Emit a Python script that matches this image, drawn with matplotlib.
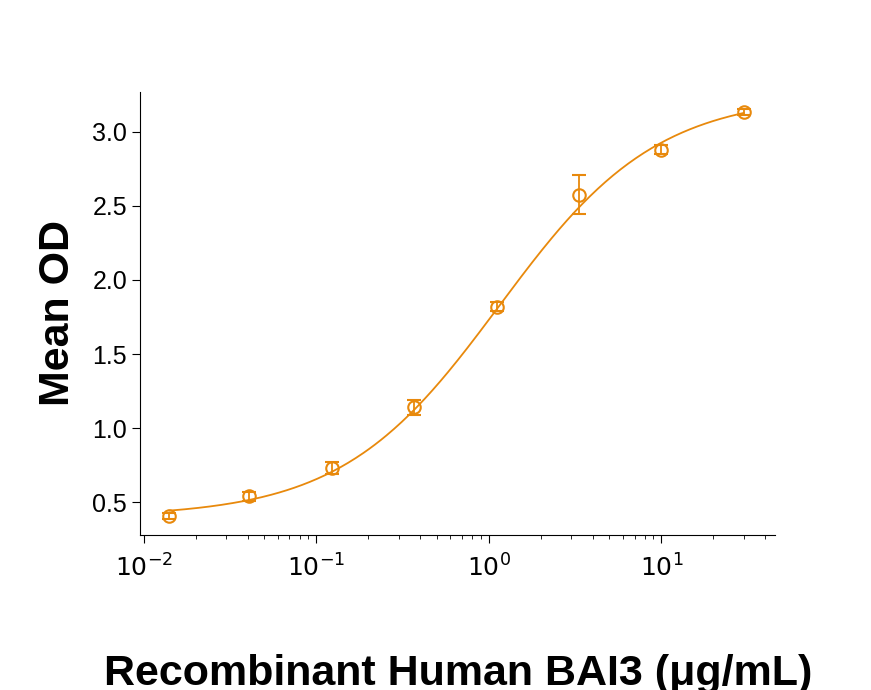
import matplotlib
matplotlib.use("Agg")
import matplotlib.pyplot as plt
import numpy as np

plt.rcParams["mathtext.fontset"] = "custom"
plt.rcParams["mathtext.rm"] = "Liberation Sans"
plt.rcParams["mathtext.it"] = "Liberation Sans"

conc = [0.0141, 0.041, 0.123, 0.37, 1.11, 3.33, 10, 30]
od = [0.405, 0.54, 0.73, 1.14, 1.82, 2.575, 2.88, 3.135]
err = [0.02, 0.03, 0.04, 0.05, 0.03, 0.13, 0.03, 0.02]
# fitted 4PL parameters (estimated)
bottom, top, ec50, hill = 0.40, 3.25, 1.15, 0.95

color = "#E8890C"
fig = plt.figure(figsize=(8.71, 6.9), dpi=100)
ax = fig.add_axes([0.161, 0.225, 0.729, 0.642])
xs = np.logspace(np.log10(conc[0]), np.log10(conc[-1]), 300)
ax.plot(xs, bottom + (top - bottom) / (1 + (ec50 / xs) ** hill), color=color, lw=1.3)
ax.errorbar(conc, od, yerr=err, fmt="o", mfc="none", mec=color, ecolor=color,
            ms=9, mew=1.5, capsize=5, elinewidth=1.3)
ax.set_xscale("log")
ax.set_xlim(10**-2.02, 10**1.66)
ax.set_ylim(0.28, 3.27)
ax.set_yticks([0.5, 1.0, 1.5, 2.0, 2.5, 3.0])
ax.set_yticklabels(["0.5", "1.0", "1.5", "2.0", "2.5", "3.0"], family="Liberation Sans")
for s in ["top", "right"]:
    ax.spines[s].set_visible(False)
ax.tick_params(labelsize=18, length=6)
ax.tick_params(which="minor", length=3)
ax.tick_params(axis="x", pad=8)
ax.set_ylabel("Mean OD", fontsize=31, fontweight="bold", family="Liberation Sans", labelpad=10)
ax.set_xlabel("Recombinant Human BAI3 (\u03bcg/mL)", fontsize=31, fontweight="bold",
              family="Liberation Sans", labelpad=22)
ax.xaxis.set_label_coords(0.5, -0.27)
fig.savefig("out.png", dpi=100)
